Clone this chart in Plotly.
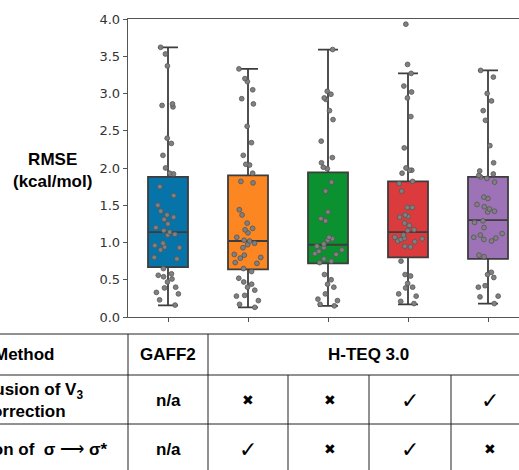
import plotly.graph_objects as go

# ---------------- data ----------------
methods = ["GAFF2", "H-TEQ a", "H-TEQ b", "H-TEQ c", "H-TEQ d"]
box_colors = ["#0673a9", "#fb8622", "#0b912f", "#dc3b3d", "#9d72b7"]

rmse_gaff2 = [3.62, 3.53, 3.37, 2.86, 2.84, 2.82, 2.40, 2.33, 2.17, 2.00, 1.93, 1.92,
              1.75, 1.63, 1.50, 1.42, 1.37, 1.34, 1.31, 1.25, 1.20, 1.16, 1.14, 1.11,
              1.10, 0.99, 0.96, 0.94, 0.93, 0.90, 0.80, 0.78, 0.65, 0.58, 0.56, 0.54,
              0.51, 0.47, 0.40, 0.39, 0.33, 0.31, 0.23, 0.16]
rmse_hteq_a = [3.33, 3.20, 3.16, 3.05, 2.93, 2.86, 2.56, 2.34, 2.17, 2.05, 2.04, 1.93,
               1.82, 1.80, 1.44, 1.37, 1.26, 1.19, 1.17, 1.13, 1.07, 1.03, 1.02, 0.99,
               0.97, 0.93, 0.84, 0.83, 0.80, 0.79, 0.73, 0.72, 0.65, 0.61, 0.52, 0.47,
               0.44, 0.40, 0.36, 0.29, 0.28, 0.22, 0.17, 0.13]
rmse_hteq_b = [3.59, 3.03, 2.99, 2.94, 2.92, 2.77, 2.65, 2.36, 2.14, 2.07, 2.01, 1.99,
               1.81, 1.69, 1.41, 1.32, 1.29, 1.07, 1.05, 1.03, 0.98, 0.95, 0.93, 0.90,
               0.88, 0.85, 0.84, 0.78, 0.75, 0.73, 0.57, 0.50, 0.44, 0.40, 0.31, 0.24,
               0.22, 0.17, 0.15]
rmse_hteq_c = [3.93, 3.39, 3.27, 3.10, 3.02, 2.94, 2.69, 2.27, 2.00, 1.97, 1.97, 1.93,
               1.82, 1.79, 1.69, 1.47, 1.47, 1.37, 1.35, 1.34, 1.26, 1.23, 1.17, 1.16,
               1.10, 1.07, 1.06, 1.05, 1.04, 1.02, 1.01, 0.95, 0.94, 0.75, 0.57, 0.55,
               0.45, 0.40, 0.39, 0.31, 0.28, 0.21, 0.18]
rmse_hteq_d = [3.31, 3.22, 3.00, 2.90, 2.77, 2.64, 2.30, 2.07, 1.96, 1.92, 1.90, 1.88,
               1.86, 1.81, 1.61, 1.59, 1.51, 1.48, 1.45, 1.42, 1.41, 1.29, 1.27, 1.20,
               1.12, 1.10, 1.07, 1.06, 1.04, 1.02, 0.83, 0.81, 0.60, 0.57, 0.53, 0.42,
               0.40, 0.28, 0.27, 0.18]
samples = [rmse_gaff2, rmse_hteq_a, rmse_hteq_b, rmse_hteq_c, rmse_hteq_d]

# box statistics as drawn in the reference
q1_vals = [0.67, 0.64, 0.72, 0.80, 0.78]
median_vals = [1.14, 1.02, 0.97, 1.14, 1.30]
q3_vals = [1.88, 1.90, 1.94, 1.82, 1.88]
lower_fences = [0.155, 0.13, 0.15, 0.17, 0.18]
upper_fences = [3.62, 3.33, 3.59, 3.27, 3.31]

y_ticks = [0.0, 0.5, 1.0, 1.5, 2.0, 2.5, 3.0, 3.5, 4.0]

# table contents
row_labels = ["Method", "Inclusion of V<sub>3</sub><br>correction",
              "Inclusion of  σ <span style='font-weight:normal'>⟶</span> σ*"]
method_names = ["GAFF2", "H-TEQ 3.0"]
v3_row = ["n/a", "✖", "✖", "✓", "✓"]
sigma_row = ["n/a", "✓", "✖", "✓", "✖"]

# ---------------- layout geometry (pixels) ----------------
W, H = 519, 470
L, R, T, B = 128, 0, 19, 153
pw, ph = W - L - R, H - T - B


def fx(p):
    return (p - L) / pw


def fy(p):
    return (H - B - p) / ph


fig = go.Figure()
edge = "#3d3d3d"
for i, (vals, col) in enumerate(zip(samples, box_colors)):
    fig.add_trace(go.Box(
        x=[i], y=[vals],
        q1=[q1_vals[i]], median=[median_vals[i]], q3=[q3_vals[i]],
        lowerfence=[lower_fences[i]], upperfence=[upper_fences[i]],
        boxpoints="all", jitter=0.8, pointpos=0,
        fillcolor=col, line=dict(color=edge, width=1.8),
        whiskerwidth=0.5, width=0.5,
        marker=dict(color="#808080", size=4.8, line=dict(color="#555555", width=0.8)),
        showlegend=False, hoverinfo="skip",
    ))

axis_line = "#555555"
fig.update_layout(
    width=W, height=H,
    margin=dict(l=L, r=R, t=T, b=B, pad=0),
    paper_bgcolor="white", plot_bgcolor="white",
    font=dict(family="DejaVu Sans", size=13, color="#333333"),
    xaxis=dict(range=[-0.5, -0.5 + pw / 80.0], tickvals=list(range(5)), showticklabels=False,
               ticks="outside", ticklen=4, tickcolor=axis_line, tickwidth=1,
               showline=True, linecolor=axis_line, linewidth=1.3, mirror=True,
               showgrid=False, zeroline=False, fixedrange=True),
    yaxis=dict(range=[0, 4], tickvals=y_ticks, tickformat=".1f",
               ticks="outside", ticklen=4, tickcolor=axis_line, tickwidth=1,
               showline=True, linecolor=axis_line, linewidth=1.3,
               showgrid=False, zeroline=False,
               tickfont=dict(family="DejaVu Sans", size=13, color="#333333")),
)

bold_font = dict(family="Arial, Liberation Sans", size=17, color="black")

fig.add_annotation(xref="paper", yref="paper", x=fx(52), y=fy(171),
                   text="<b>RMSE<br>(kcal/mol)</b>", showarrow=False,
                   xanchor="center", yanchor="middle", font=bold_font)

# ---------------- table ----------------
line_style = dict(color="#222222", width=1)
for yy in [334, 375, 424]:
    fig.add_shape(type="line", xref="paper", yref="paper", x0=fx(0), x1=fx(W),
                  y0=fy(yy), y1=fy(yy), line=line_style)
for xx in [128, 208]:
    fig.add_shape(type="line", xref="paper", yref="paper", x0=fx(xx), x1=fx(xx),
                  y0=fy(334), y1=fy(H), line=line_style)
for xx in [288, 369, 451]:
    fig.add_shape(type="line", xref="paper", yref="paper", x0=fx(xx), x1=fx(xx),
                  y0=fy(375), y1=fy(H), line=line_style)

row_y = [354.5, 400, 449]
for lab, ry in zip(row_labels, row_y):
    fig.add_annotation(xref="paper", yref="paper", x=fx(24), y=fy(ry),
                       text="<b>" + lab + "</b>", showarrow=False,
                       xanchor="center", yanchor="middle", font=bold_font)

fig.add_annotation(xref="paper", yref="paper", x=fx(168), y=fy(row_y[0]),
                   text="<b>" + method_names[0] + "</b>", showarrow=False,
                   xanchor="center", yanchor="middle", font=bold_font)
fig.add_annotation(xref="paper", yref="paper", x=fx(368), y=fy(row_y[0]),
                   text="<b>" + method_names[1] + "</b>", showarrow=False,
                   xanchor="center", yanchor="middle", font=bold_font)

col_x = [168, 248, 330, 410, 490]
for row, ry in [(v3_row, row_y[1]), (sigma_row, row_y[2])]:
    for cx, t in zip(col_x, row):
        if t == "n/a":
            f = bold_font
            txt = "<b>n/a</b>"
        elif t == "✓":
            f = dict(family="DejaVu Sans", size=22, color="black")
            txt = t
        else:
            f = dict(family="DejaVu Sans", size=14, color="black")
            txt = t
        fig.add_annotation(xref="paper", yref="paper", x=fx(cx), y=fy(ry),
                           text=txt, showarrow=False,
                           xanchor="center", yanchor="middle", font=f)

fig.write_html(
    "out.html",
    config={"displayModeBar": False, "staticPlot": True},
    post_script="document.body.style.margin='0';document.body.style.overflow='hidden';",
)
